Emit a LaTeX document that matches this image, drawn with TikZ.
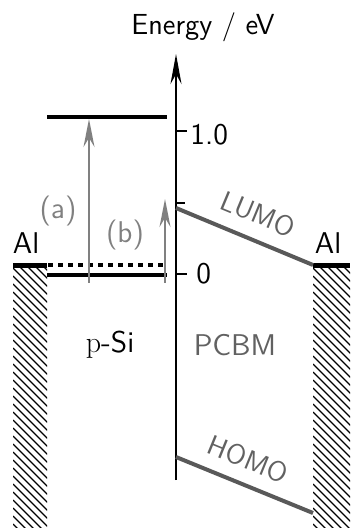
\documentclass[tikz,border=0pt]{standalone}
\usepackage{fontspec}
\usepackage{tikz}
\usetikzlibrary{arrows.meta}
\colorlet{arrgray}{black!50}
\colorlet{orbgray}{black!65}
\colorlet{txtgray}{black!62}

\begin{document}
\begin{tikzpicture}[
    x=0.5pt, y=-0.5pt,
    lbl/.style={font=\fontsize{15}{17}\selectfont\sffamily, inner sep=0pt},
    lvl/.style={line width=2.4pt},
    fermi/.style={line width=1.6pt, dash pattern=on 2.5pt off 2.5pt},
    metal/.style={line width=2.6pt},
    orb/.style={line width=2pt, orbgray},
    arr/.style={-{Stealth[length=14pt, width=5.5pt]}, line width=1pt, arrgray},
    axarr/.style={-{Stealth[length=15pt, width=5.5pt]}, line width=1pt},
    tickmark/.style={line width=1pt},
    hatch/.style={line width=0.6pt}
  ]
  \useasboundingbox (0,0) rectangle (350,528);

  % energy axis and ticks
  \coordinate (axbot) at (176,480);
  \coordinate (axtop) at (176,54);
  \draw[axarr] (axbot) -- (axtop);
  \node[lbl, font=\fontsize{14.5}{16}\selectfont\sffamily] (title) at (203,27) {Energy / eV};
  \coordinate (tzero) at (176,274);
  \coordinate (tone) at (176,131);
  \coordinate (tlumo) at (176,203);
  \draw[tickmark] (tzero) -- ++(11,0);
  \draw[tickmark] (tone) -- ++(11,0);
  \draw[tickmark] (tlumo) -- ++(9,0);
  \node[lbl, anchor=west] (lzero) at (196,274) {0};
  \node[lbl, anchor=west] (lone) at (190,135) {1.0};

  % p-Si levels
  \coordinate (cbl) at (47,117);
  \coordinate (cbr) at (167,117);
  \coordinate (vbl) at (47,275);
  \coordinate (vbr) at (167,275);
  \coordinate (efl) at (48,265);
  \coordinate (efr) at (167,265);
  \draw[lvl] (cbl) -- (cbr);
  \draw[lvl, line width=2pt] (vbl) -- (vbr);
  \draw[fermi] (efl) -- (efr);

  % aluminium contacts
  \coordinate (alla) at (13,265.5);
  \coordinate (allb) at (47,265.5);
  \coordinate (alra) at (313,265.5);
  \coordinate (alrb) at (350,265.5);
  \draw[metal] (alla) -- (allb);
  \draw[metal] (alra) -- (alrb);
  \begin{scope}
    \clip (13,268) rectangle (47,528);
    \foreach \k in {0,...,40}
      \draw[hatch] (13,220+8*\k) -- ++(40,40);
  \end{scope}
  \begin{scope}
    \clip (313,268) rectangle (350,528);
    \foreach \k in {0,...,40}
      \draw[hatch] (313,220+8*\k) -- ++(40,40);
  \end{scope}
  \node[lbl] (all) at (26,243) {Al};
  \node[lbl] (alr) at (328,243) {Al};

  % PCBM orbitals
  \coordinate (lumoa) at (176,208);
  \coordinate (lumob) at (313,265);
  \coordinate (homoa) at (176,457);
  \coordinate (homob) at (313,513);
  \draw[orb] (lumoa) -- (lumob);
  \draw[orb] (homoa) -- (homob);
  \node[lbl, txtgray, font=\fontsize{14}{16}\selectfont\sffamily, rotate=-22.6] (lumo) at (258,214) {LUMO};
  \node[lbl, txtgray, font=\fontsize{14}{16}\selectfont\sffamily, rotate=-22.2] (homo) at (248,459) {HOMO};

  % excitations
  \coordinate (abot) at (89,283);
  \coordinate (atop) at (89,119);
  \coordinate (bbot) at (165,283);
  \coordinate (btop) at (165,199);
  \draw[arr] (abot) -- (atop);
  \draw[arr] (bbot) -- (btop);
  \node[lbl, arrgray] (la) at (58,211) {(a)};
  \node[lbl, arrgray] (lb) at (125,235) {(b)};

  % materials
  \node[lbl] (psi) at (110,345) {{\rmfamily p}-Si};
  \node[lbl, txtgray] (pcbm) at (235,345) {PCBM};
\end{tikzpicture}
\end{document}
